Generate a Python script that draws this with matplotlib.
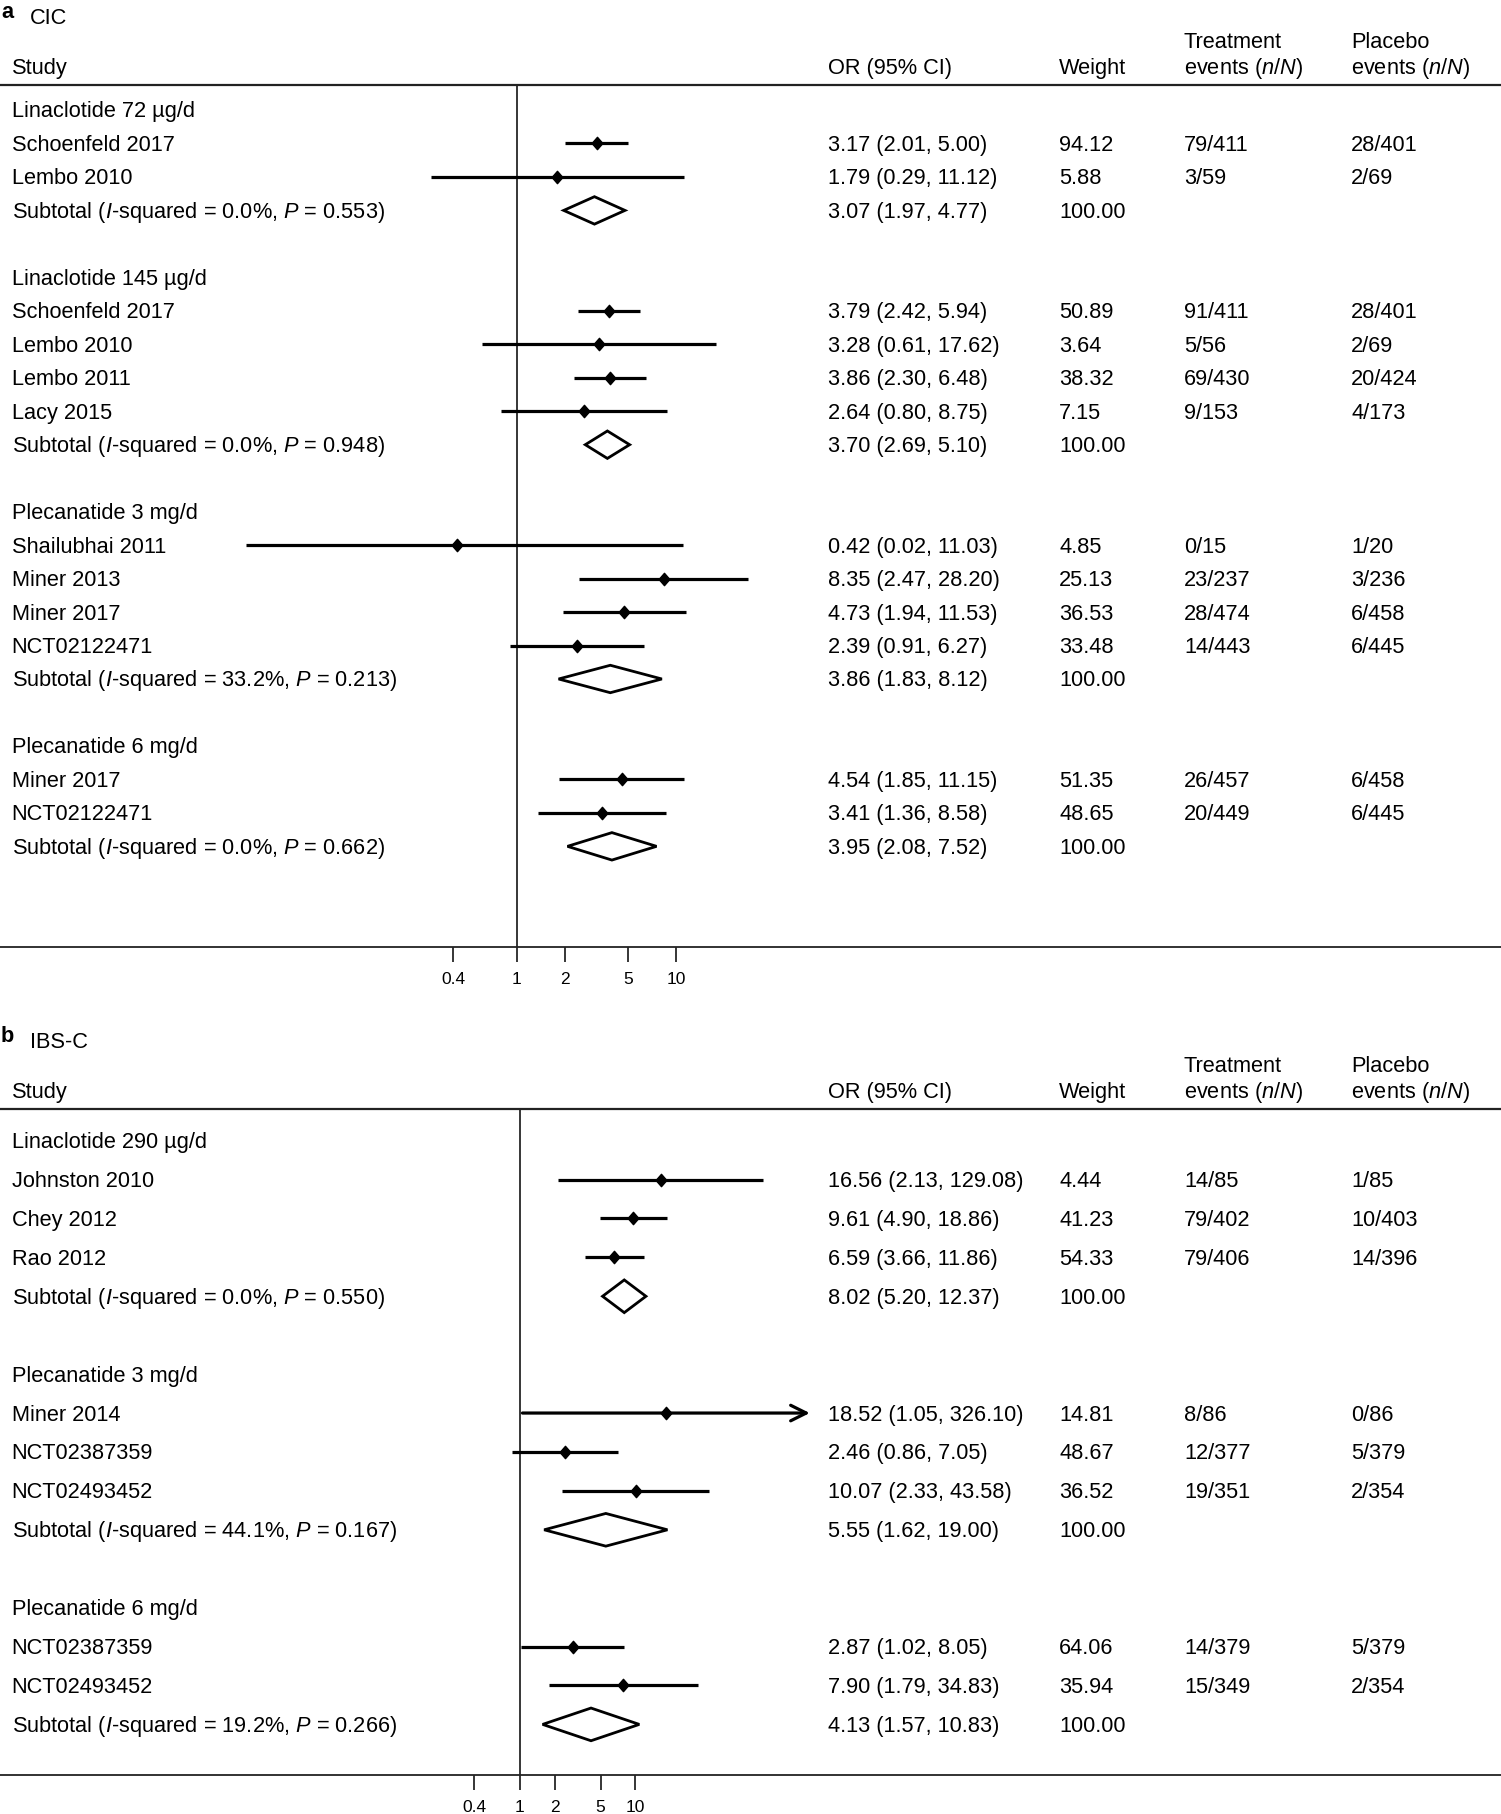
import matplotlib
matplotlib.use('Agg')
import matplotlib.pyplot as plt
from matplotlib.patches import Polygon
from matplotlib.transforms import blended_transform_factory, offset_copy

plt.rcParams['font.family'] = 'Liberation Sans'
plt.rcParams['mathtext.fontset'] = 'custom'
plt.rcParams['mathtext.rm'] = 'Liberation Sans'
plt.rcParams['mathtext.it'] = 'Liberation Sans:italic'

W, H = 1501, 1814

#--- panel a : CIC
a_groups  = ['Linaclotide 72 µg/d', 'Linaclotide 145 µg/d',
             'Plecanatide 3 mg/d', 'Plecanatide 6 mg/d']
a_group_n = [2, 4, 4, 2]
a_study = ['Schoenfeld 2017', 'Lembo 2010',
           'Schoenfeld 2017', 'Lembo 2010', 'Lembo 2011', 'Lacy 2015',
           'Shailubhai 2011', 'Miner 2013', 'Miner 2017', 'NCT02122471',
           'Miner 2017', 'NCT02122471']
a_or  = [3.17, 1.79, 3.79, 3.28, 3.86, 2.64, 0.42, 8.35, 4.73, 2.39, 4.54, 3.41]
a_lo  = [2.01, 0.29, 2.42, 0.61, 2.30, 0.80, 0.02, 2.47, 1.94, 0.91, 1.85, 1.36]
a_hi  = [5.00, 11.12, 5.94, 17.62, 6.48, 8.75, 11.03, 28.20, 11.53, 6.27, 11.15, 8.58]
a_wt  = [94.12, 5.88, 50.89, 3.64, 38.32, 7.15, 4.85, 25.13, 36.53, 33.48, 51.35, 48.65]
a_trt = ['79/411', '3/59', '91/411', '5/56', '69/430', '9/153',
         '0/15', '23/237', '28/474', '14/443', '26/457', '20/449']
a_pbo = ['28/401', '2/69', '28/401', '2/69', '20/424', '4/173',
         '1/20', '3/236', '6/458', '6/445', '6/458', '6/445']
a_sub_or = [3.07, 3.70, 3.86, 3.95]
a_sub_lo = [1.97, 2.69, 1.83, 2.08]
a_sub_hi = [4.77, 5.10, 8.12, 7.52]
a_sub_i2 = [0.0, 0.0, 33.2, 0.0]
a_sub_p  = [0.553, 0.948, 0.213, 0.662]

#--- panel b : IBS-C
b_groups  = ['Linaclotide 290 µg/d', 'Plecanatide 3 mg/d', 'Plecanatide 6 mg/d']
b_group_n = [3, 3, 2]
b_study = ['Johnston 2010', 'Chey 2012', 'Rao 2012',
           'Miner 2014', 'NCT02387359', 'NCT02493452',
           'NCT02387359', 'NCT02493452']
b_or  = [16.56, 9.61, 6.59, 18.52, 2.46, 10.07, 2.87, 7.90]
b_lo  = [2.13, 4.90, 3.66, 1.05, 0.86, 2.33, 1.02, 1.79]
b_hi  = [129.08, 18.86, 11.86, 326.10, 7.05, 43.58, 8.05, 34.83]
b_wt  = [4.44, 41.23, 54.33, 14.81, 48.67, 36.52, 64.06, 35.94]
b_trt = ['14/85', '79/402', '79/406', '8/86', '12/377', '19/351', '14/379', '15/349']
b_pbo = ['1/85', '10/403', '14/396', '0/86', '5/379', '2/354', '5/379', '2/354']
b_sub_or = [8.02, 5.55, 4.13]
b_sub_lo = [5.20, 1.62, 1.57]
b_sub_hi = [12.37, 19.00, 10.83]
b_sub_i2 = [0.0, 44.1, 19.2]
b_sub_p  = [0.550, 0.167, 0.266]

ticks = [0.4, 1, 2, 5, 10]
tick_lab = ['0.4', '1', '2', '5', '10']

FS = 15.7
col_x = {'lab': 11.5, 'or': 828, 'wt': 1059, 'trt': 1184, 'pbo': 1351}

#--- slightly taller than wide diamond for study estimates
pt_marker = [(-0.87, 0), (0, 1), (0.87, 0), (0, -1), (-0.87, 0)]


def fx(px):
    return px / W


def fy(py):
    return 1 - py / H


def forest_panel(fig, top, bottom, row0, row_h, x1_px, dec_px, dia_h,
                 groups, group_n, study, or_, lo, hi, wt, trt, pbo,
                 s_or, s_lo, s_hi, s_i2, s_p, arrow_above=None):

    ax = fig.add_axes([0, fy(bottom), 1, (bottom - top) / H])
    ax.set_xscale('log')
    ax.set_xlim(10 ** (-x1_px / dec_px), 10 ** ((W - x1_px) / dec_px))
    ax.set_ylim((bottom - row0) / row_h, (top - row0) / row_h)

    for s in ['left', 'right']:
        ax.spines[s].set_visible(False)
    ax.spines['top'].set_linewidth(1.6)
    ax.spines['top'].set_color('#222222')
    ax.spines['bottom'].set_linewidth(1.3)
    ax.spines['bottom'].set_color('#222222')
    ax.set_yticks([])
    ax.set_xticks(ticks)
    ax.set_xticklabels(tick_lab)
    ax.minorticks_off()
    ax.tick_params(axis='x', length=11, width=1.1, pad=7, labelsize=12.5)
    ax.axvline(1, color='black', lw=1.1)

    #--- text baseline sits half a cap height below the row centre
    tr = offset_copy(blended_transform_factory(ax.transAxes, ax.transData),
                     fig=fig, y=-5.4, units='points')

    def txt(col, y, s):
        ax.text(fx(col_x[col]), y, s, transform=tr, fontsize=FS,
                va='baseline', ha='left')

    r = 0
    k = 0
    for g in range(len(groups)):
        txt('lab', r, groups[g])
        r += 1
        for j in range(group_n[g]):
            #--- study line and point
            if arrow_above is not None and hi[k] > arrow_above:
                ax.annotate('', xy=(hi[k], r), xytext=(lo[k], r),
                            arrowprops=dict(arrowstyle='->', lw=2.3,
                                            color='black',
                                            mutation_scale=28,
                                            shrinkA=0, shrinkB=0))
            else:
                ax.plot([lo[k], hi[k]], [r, r], c='black', lw=2.3,
                        solid_capstyle='butt')
            ax.plot(or_[k], r, marker=pt_marker, c='black', ms=8.9, lw=0)

            txt('lab', r, study[k])
            txt('or', r, '%.2f (%.2f, %.2f)' % (or_[k], lo[k], hi[k]))
            txt('wt', r, '%.2f' % wt[k])
            txt('trt', r, trt[k])
            txt('pbo', r, pbo[k])
            r += 1
            k += 1

        #--- subtotal diamond
        dia = Polygon([(s_lo[g], r), (s_or[g], r - dia_h),
                       (s_hi[g], r), (s_or[g], r + dia_h)],
                      closed=True, facecolor='white', edgecolor='black',
                      lw=2.0, joinstyle='miter')
        ax.add_patch(dia)
        txt('lab', r, 'Subtotal ($I$-squared = %.1f%%, $P$ = %.3f)'
            % (s_i2[g], s_p[g]))
        txt('or', r, '%.2f (%.2f, %.2f)' % (s_or[g], s_lo[g], s_hi[g]))
        txt('wt', r, '100.00')
        r += 2
    return ax


def headers(fig, line_y, letter, title):
    #--- baselines measured relative to the header rule
    yb_let = line_y - 67
    yb_tit = line_y - 61
    yb_top = line_y - 37
    yb_bot = line_y - 11

    def ht(x, y, s, **kw):
        fig.text(fx(x), fy(y), s, fontsize=FS, va='baseline', ha='left', **kw)

    ht(1, yb_let, letter, fontweight='bold')
    ht(30, yb_tit, title)
    ht(col_x['lab'], yb_bot, 'Study')
    ht(col_x['or'], yb_bot, 'OR (95% CI)')
    ht(col_x['wt'], yb_bot, 'Weight')
    ht(col_x['trt'], yb_top, 'Treatment')
    ht(col_x['trt'], yb_bot, 'events ($n$/$N$)')
    ht(col_x['pbo'], yb_top, 'Placebo')
    ht(col_x['pbo'], yb_bot, 'events ($n$/$N$)')


fig = plt.figure(figsize=(W / 100, H / 100), dpi=100)

headers(fig, 85, 'a', 'CIC')
forest_panel(fig, 85, 946.7, 110.0, 33.47, 516.7, 159.6, 0.41,
             a_groups, a_group_n, a_study, a_or, a_lo, a_hi, a_wt, a_trt, a_pbo,
             a_sub_or, a_sub_lo, a_sub_hi, a_sub_i2, a_sub_p)

headers(fig, 1108.7, 'b', 'IBS-C')
forest_panel(fig, 1108.7, 1775.3, 1140.6, 38.92, 520.0, 115.3, 0.42,
             b_groups, b_group_n, b_study, b_or, b_lo, b_hi, b_wt, b_trt, b_pbo,
             b_sub_or, b_sub_lo, b_sub_hi, b_sub_i2, b_sub_p, arrow_above=200)

fig.savefig('out.png', dpi=100)
